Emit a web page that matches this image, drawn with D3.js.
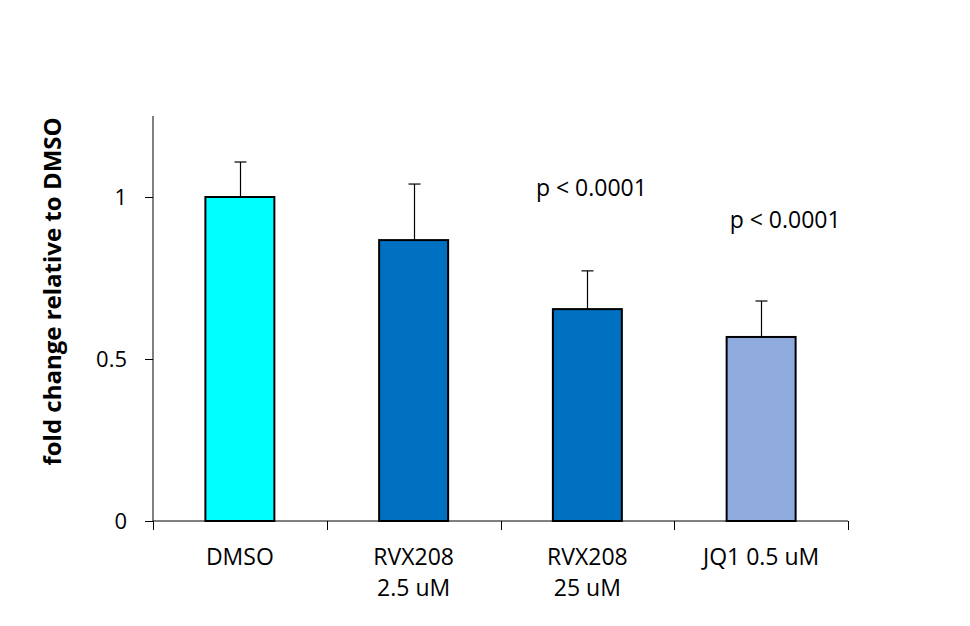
<!DOCTYPE html>
<html>
<head>
<meta charset="utf-8">
<script src="https://cdn.jsdelivr.net/npm/d3@7"></script>
<style>
  html, body { margin: 0; padding: 0; background: #fff; }
  svg { display: block; font-family: "Open Sans", "Noto Sans", sans-serif; }
</style>
</head>
<body>
<svg id="chart" width="970" height="626"></svg>
<script>
// Treatment groups (line breaks inside labels shown as separate lines)
const categories = [["DMSO"], ["RVX208", "2.5 uM"], ["RVX208", "25 uM"], ["JQ1 0.5 uM"]];
const foldChange = [1.0, 0.867, 0.654, 0.568];
const errorTop = [1.108, 1.040, 0.772, 0.679];
const barColors = ["#00FFFF", "#0070C0", "#0070C0", "#8FAADC"];
const pLabels = [null, null, "p < 0.0001", "p < 0.0001"];
const pLabelValues = [null, null, 1.0, 0.9];
const yTicks = [0, 0.5, 1];
const yLabel = "fold change relative to DMSO";

const FONT = "'Open Sans', 'Noto Sans', sans-serif";
const svg = d3.select("#chart");
const margin = { left: 153, right: 122, top: 116, bottom: 105 };
const W = 970, H = 626;
// horizontal nudge of each significance note from its bar centre
const pShift = [0, 0, 4, 24];

const x = d3.scaleBand()
  .domain(d3.range(categories.length))
  .range([margin.left, W - margin.right])
  .paddingInner(0.603)
  .paddingOuter(0.3015);

const y = d3.scaleLinear()
  .domain([0, 1.25])
  .range([H - margin.bottom, margin.top]);

// Bars
svg.append("g").selectAll("rect")
  .data(foldChange)
  .join("rect")
  .attr("x", (d, i) => x(i))
  .attr("y", d => y(d))
  .attr("width", x.bandwidth())
  .attr("height", d => y(0) - y(d))
  .attr("fill", (d, i) => barColors[i])
  .attr("stroke", "#000")
  .attr("stroke-width", 2);

// Upper error bars
const eb = svg.append("g").attr("stroke", "#000").attr("stroke-width", 1.2);
errorTop.forEach((e, i) => {
  const cx = Math.round(x(i) + x.bandwidth() / 2) + 0.5;
  eb.append("line").attr("x1", cx).attr("x2", cx).attr("y1", y(foldChange[i])).attr("y2", y(e));
  eb.append("line").attr("x1", cx - 6).attr("x2", cx + 6).attr("y1", y(e)).attr("y2", y(e));
});

// Y axis
const yAxis = svg.append("g")
  .attr("transform", `translate(${margin.left},0)`)
  .call(d3.axisLeft(y).tickValues(yTicks).tickSize(8).tickPadding(18).tickFormat(d3.format("")));
yAxis.select(".domain").attr("stroke", "#000").attr("d", `M0,${y(1.25)}V${y(0)}`);
yAxis.selectAll(".tick line").attr("stroke", "#000");
yAxis.selectAll(".tick text").attr("fill", "#000").style("font-size", "22px")
  .style("font-family", FONT);

// X axis line with boundary ticks between groups
const xg = svg.append("g");
xg.append("line")
  .attr("x1", margin.left).attr("x2", W - margin.right)
  .attr("y1", y(0)).attr("y2", y(0))
  .attr("stroke", "#000").attr("stroke-width", 1);
const bounds = d3.range(categories.length + 1).map(i => margin.left + i * x.step());
xg.selectAll("line.b").data(bounds).join("line").attr("class", "b")
  .attr("x1", d => Math.round(d) + 0.5).attr("x2", d => Math.round(d) + 0.5)
  .attr("y1", y(0)).attr("y2", y(0) + 9)
  .attr("stroke", "#000");

// Category labels
categories.forEach((lines, i) => {
  const t = svg.append("text")
    .attr("x", x(i) + x.bandwidth() / 2)
    .attr("y", 565)
    .attr("text-anchor", "middle")
    .style("font-size", "23px")
    .attr("fill", "#000");
  lines.forEach((ln, k) => {
    t.append("tspan").attr("x", x(i) + x.bandwidth() / 2).attr("dy", k === 0 ? 0 : 31).text(ln);
  });
});

// Significance labels
pLabels.forEach((p, i) => {
  if (!p) return;
  svg.append("text")
    .attr("x", x(i) + x.bandwidth() / 2 + pShift[i])
    .attr("y", y(pLabelValues[i]) - 1)
    .attr("text-anchor", "middle")
    .style("font-size", "23px")
    .attr("fill", "#000")
    .text(p);
});

// Y axis title
svg.append("text")
  .attr("transform", `translate(61,${(y(0) + y(1.25)) / 2 - 27}) rotate(-90)`)
  .attr("text-anchor", "middle")
  .style("font-size", "24px")
  .style("font-weight", "bold")
  .attr("fill", "#000")
  .text(yLabel);
</script>
</body>
</html>
